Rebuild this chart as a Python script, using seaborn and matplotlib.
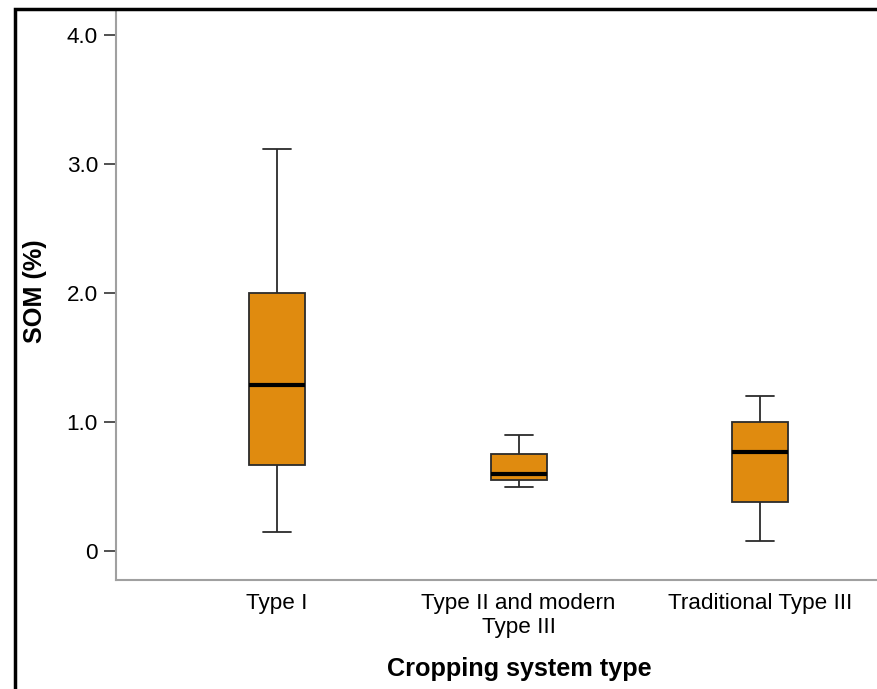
import numpy as np
import pandas as pd
import seaborn as sns
import matplotlib.pyplot as plt
from matplotlib.patches import Rectangle

# five-number summaries (min, Q1, median, Q3, max)
categories = ["Type I", "Type II and modern\nType III", "Traditional Type III"]
type1 = [0.15, 0.67, 1.29, 2.00, 3.12]
type2 = [0.50, 0.55, 0.60, 0.75, 0.90]
trad3 = [0.08, 0.38, 0.77, 1.00, 1.20]
yticks = [0, 1, 2, 3, 4]
ytick_labels = ["0", "1.0", "2.0", "3.0", "4.0"]

df = pd.DataFrame({
    "group": np.repeat(categories, 5),
    "som": type1 + type2 + trad3,
})

sns.set_style("white")
plt.rcParams["font.family"] = ["Liberation Sans", "DejaVu Sans"]
plt.rcParams["text.color"] = "black"
plt.rcParams["axes.labelcolor"] = "black"
plt.rcParams["xtick.color"] = "black"
plt.rcParams["ytick.color"] = "black"

fig = plt.figure(figsize=(8.77, 6.89), dpi=100)
ax = fig.add_axes([0.1323, 0.1582, 0.8677, 0.8278])

sns.boxplot(data=df, x="group", y="som", order=categories, ax=ax,
            color="#E08B0F", saturation=1, width=0.232, whis=np.inf,
            linecolor="#2b2b2b", linewidth=1.3, capwidths=0.116,
            medianprops=dict(color="black", linewidth=3))

ax.set_ylim(-0.225, 4.2)
ax.set_xlim(-0.667, 2.484)
ax.set_yticks(yticks)
ax.set_yticklabels(ytick_labels)
ax.tick_params(axis="y", length=9, width=1.2, color="#333333", labelcolor="black",
               labelsize=16.2, pad=4, left=True)
ax.tick_params(axis="x", length=0, labelsize=16.2, labelcolor="black", pad=9)
for s in ["top", "right"]:
    ax.spines[s].set_visible(False)
for s in ["left", "bottom"]:
    ax.spines[s].set_color("#a0a0a0")
    ax.spines[s].set_linewidth(1.5)

# x title sits under the middle box, as in the original
ax.set_xlabel("Cropping system type", fontsize=18.2, fontweight="bold", labelpad=14, x=0.53)
ax.set_ylabel("SOM (%)", fontsize=18.2, fontweight="bold", labelpad=14, y=0.506)

# black outer frame of the original export
fig.patches.append(Rectangle((15 / 877, -0.05), 1.1, 1 - 9 / 689 + 0.05,
                             transform=fig.transFigure, fill=False,
                             edgecolor="black", linewidth=2.5, clip_on=False))

fig.savefig("out.png", dpi=100)
